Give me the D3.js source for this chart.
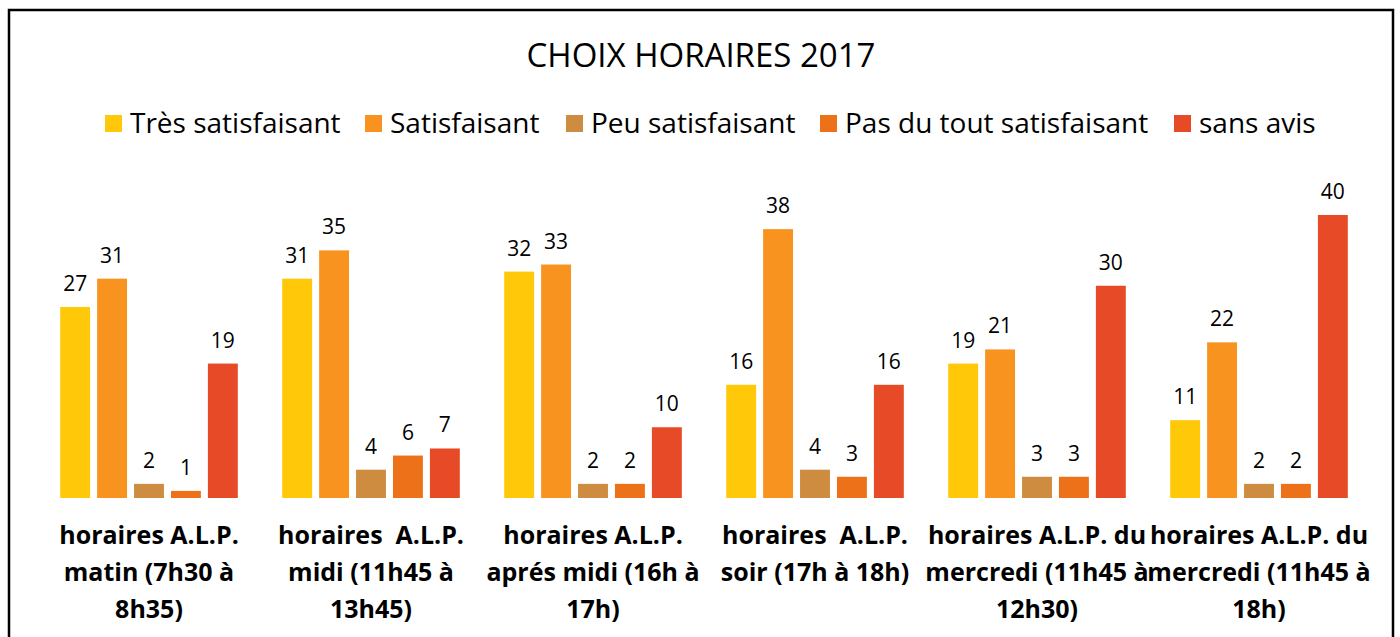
<!DOCTYPE html>
<html>
<head>
<meta charset="utf-8">
<script src="https://cdn.jsdelivr.net/npm/d3@7"></script>
<style>
  body { margin: 0; background: #fff; }
  svg { display: block; font-family: "Open Sans", sans-serif; }
</style>
</head>
<body>
<script>
// data
const categories = ["matin", "midi", "apresmidi", "soir", "mercredi1230", "mercredi18"];
const categoryLines = [
  ["horaires A.L.P.", "matin (7h30 à", "8h35)"],
  ["horaires  A.L.P.", "midi (11h45 à", "13h45)"],
  ["horaires A.L.P.", "aprés midi (16h à", "17h)"],
  ["horaires  A.L.P.", "soir (17h à 18h)"],
  ["horaires A.L.P. du", "mercredi (11h45 à", "12h30)"],
  ["horaires A.L.P. du", "mercredi (11h45 à", "18h)"]
];
const seriesNames = ["Très satisfaisant", "Satisfaisant", "Peu satisfaisant", "Pas du tout satisfaisant", "sans avis"];
const tresSatisfaisant = [27, 31, 32, 16, 19, 11];
const satisfaisant = [31, 35, 33, 38, 21, 22];
const peuSatisfaisant = [2, 4, 2, 4, 3, 2];
const pasDuTout = [1, 6, 2, 3, 3, 2];
const sansAvis = [19, 7, 10, 16, 30, 40];
const seriesValues = [tresSatisfaisant, satisfaisant, peuSatisfaisant, pasDuTout, sansAvis];
const colors = ["#ffc90a", "#f7931e", "#cd8c40", "#ec7119", "#e64a26"];

const W = 1400, H = 637;
const svg = d3.select("body").append("svg").attr("width", W).attr("height", H);

// chart border
svg.append("rect")
  .attr("x", 9).attr("y", 10).attr("width", 1384).attr("height", 640)
  .attr("fill", "#fff").attr("stroke", "#000").attr("stroke-width", 2.5);

// title
svg.append("text")
  .attr("x", 701).attr("y", 67)
  .attr("text-anchor", "middle")
  .attr("font-size", 33)
  .text("CHOIX HORAIRES 2017");

// scales
const x0 = d3.scaleBand().domain(categories).range([38, 1370]).paddingInner(0.2).paddingOuter(0.1);
const x1 = d3.scaleBand().domain(seriesNames).range([0, x0.bandwidth()]).paddingInner(0.19);
const y = d3.scaleLinear().domain([0, 40]).range([498, 215]);

// legend
const legendX = [105, 365, 566, 820, 1174];
const legend = svg.append("g");
seriesNames.forEach((name, i) => {
  const g = legend.append("g").attr("transform", `translate(${legendX[i]},115)`);
  g.append("rect").attr("width", 17).attr("height", 17).attr("fill", colors[i]);
  g.append("text").attr("x", 25).attr("y", 18).attr("font-size", 28).text(name);
});

// bars
const groups = svg.selectAll("g.cat")
  .data(categories)
  .enter().append("g")
  .attr("class", "cat")
  .attr("transform", d => `translate(${x0(d)},0)`);

seriesNames.forEach((name, s) => {
  groups.append("rect")
    .attr("x", x1(name))
    .attr("y", (d, i) => y(seriesValues[s][i]))
    .attr("width", x1.bandwidth())
    .attr("height", (d, i) => y(0) - y(seriesValues[s][i]))
    .attr("fill", colors[s]);

  groups.append("text")
    .attr("x", x1(name) + x1.bandwidth() / 2)
    .attr("y", (d, i) => y(seriesValues[s][i]) - 16)
    .attr("text-anchor", "middle")
    .attr("font-size", 21)
    .text((d, i) => seriesValues[s][i]);
});

// category labels
groups.append("text")
  .attr("text-anchor", "middle")
  .attr("font-size", 25)
  .attr("font-weight", "bold")
  .each(function (d, i) {
    const t = d3.select(this);
    categoryLines[i].forEach((line, k) => {
      t.append("tspan")
        .attr("x", x0.bandwidth() / 2)
        .attr("y", 544 + k * 37)
        .style("white-space", "pre")
        .text(line);
    });
  });
</script>
</body>
</html>
